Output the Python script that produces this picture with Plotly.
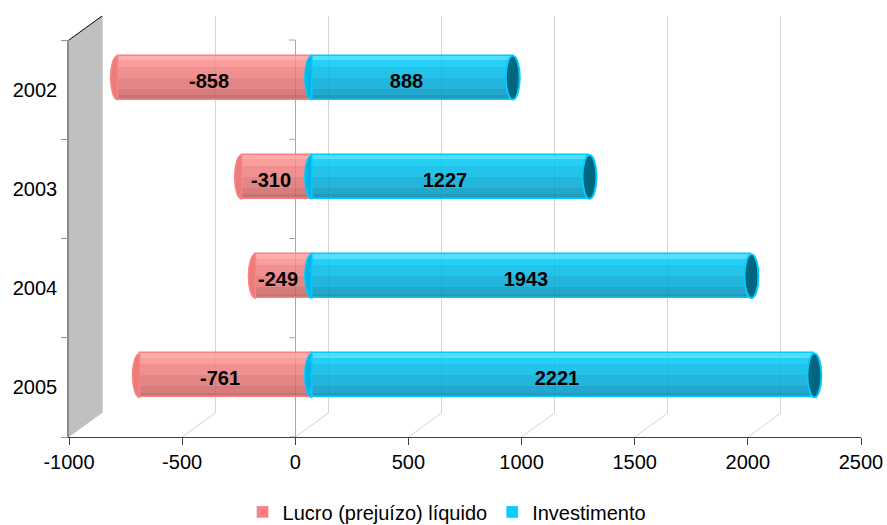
import plotly.graph_objects as go

# ---- data -------------------------------------------------------------
years = ["2002", "2003", "2004", "2005"]
lucro = [-858, -310, -249, -761]          # Lucro (prejuízo) líquido
investimento = [888, 1227, 1943, 2221]    # Investimento
x_tick_values = [-1000, -500, 0, 500, 1000, 1500, 2000, 2500]
x_tick_labels = ["-1000", "-500", "0", "500", "1000", "1500", "2000", "2500"]

# ---- geometry of the pseudo-3D frame ----------------------------------
W, H = 887, 525
ML, MR, MT, MB = 69, 26, 16, 88
PW, PH = W - ML - MR, H - MT - MB
X0, X1 = -1000, 2500
PX_PER_UNIT = PW / (X1 - X0)
DEPTH_X, DEPTH_Y = 33, 24       # how far the back wall recedes (px)
FONT = "Liberation Sans, Arial, sans-serif"

pos = list(range(len(years)))
Y_RANGE = [len(years) - 0.5, -0.5]
BAR_H = 0.443
CAP_A = 7 / PX_PER_UNIT          # horizontal half-axis of the cylinder ends
CAP_B = BAR_H / 2


def x_range(depth):
    d = depth * DEPTH_X / PX_PER_UNIT
    return [X0 - d, X1 - d]


def y_domain(depth):
    lo = depth * DEPTH_Y / PH
    return [lo, lo + (PH - DEPTH_Y) / PH]


fig = go.Figure()

# empty traces so the frame subplots (back wall, front plane) get drawn
for xa, ya in (("x", "y"), ("x2", "y2"), ("x2", "y5")):
    fig.add_trace(go.Scatter(x=[None], y=[None], mode="markers",
                             xaxis=xa, yaxis=ya, showlegend=False,
                             hoverinfo="skip"))

# ---- cylinders: horizontal slices give the rounded shading ------------
red_slices = [(0.10, "#ff9e9e"), (0.15, "#f98d8d"), (0.25, "#ee7e7e"),
              (0.25, "#e07272"), (0.15, "#cf6767"), (0.10, "#bb5c5c")]
blue_slices = [(0.10, "#3ad8ff"), (0.15, "#00c8f4"), (0.25, "#00b9e6"),
               (0.25, "#00a9d6"), (0.15, "#0099c4"), (0.10, "#0089b0")]


def add_cylinder(values, slices, edge):
    off = -BAR_H / 2
    for frac, col in slices:
        w = frac * BAR_H
        fig.add_trace(go.Bar(
            x=values, y=pos, orientation="h", width=w, offset=off,
            marker=dict(color=col, opacity=0.86, line=dict(width=0)),
            xaxis="x3", yaxis="y3", showlegend=False, hoverinfo="skip"))
        off += w
    fig.add_trace(go.Bar(
        x=values, y=pos, orientation="h", width=BAR_H,
        marker=dict(color="rgba(0,0,0,0)", line=dict(color=edge, width=1.5)),
        xaxis="x3", yaxis="y3", showlegend=False, hoverinfo="skip"))


add_cylinder(lucro, red_slices, "#ff8080")
add_cylinder(investimento, blue_slices, "#00ccff")

# value labels
for values in (lucro, investimento):
    fig.add_trace(go.Bar(
        x=values, y=pos, orientation="h", width=BAR_H,
        text=[str(v) for v in values], texttemplate="<b>%{text}</b>",
        textposition="inside", insidetextanchor="middle", textangle=0,
        constraintext="none",
        textfont=dict(family=FONT, size=20, color="#000000"),
        marker=dict(color="rgba(0,0,0,0)", line=dict(width=0)),
        xaxis="x4", yaxis="y4", showlegend=False, hoverinfo="skip"))

# legend entries
fig.add_trace(go.Bar(x=[None], y=[None], name="Lucro (prejuízo) líquido",
                     marker_color="#ff8080", xaxis="x3", yaxis="y3"))
fig.add_trace(go.Bar(x=[None], y=[None], name="Investimento",
                     marker_color="#00ccff", xaxis="x3", yaxis="y3"))

# ---- cylinder ends ----------------------------------------------------
K = 0.5523


def half_ellipse(xc, yc, a, b):
    """Left half of an ellipse, closed along its vertical chord."""
    return (f"M {xc},{yc - b} C {xc - K * a},{yc - b} {xc - a},{yc - K * b} {xc - a},{yc} "
            f"C {xc - a},{yc + K * b} {xc - K * a},{yc + b} {xc},{yc + b} Z")


shapes = []
for i, (l, v) in enumerate(zip(lucro, investimento)):
    shapes.append(dict(type="path", xref="x3", yref="y3", layer="above",
                       path=half_ellipse(l, i, CAP_A, CAP_B),
                       fillcolor="#ec7c7c", line=dict(color="#ff8080", width=1.5)))
    shapes.append(dict(type="path", xref="x3", yref="y3", layer="above",
                       path=half_ellipse(0, i, CAP_A, CAP_B),
                       fillcolor="#00b4e4", line=dict(color="#00ccff", width=1.5)))
    shapes.append(dict(type="circle", xref="x3", yref="y3", layer="above",
                       x0=v - CAP_A, x1=v + CAP_A, y0=i - CAP_B, y1=i + CAP_B,
                       fillcolor="#00667f", line=dict(color="#00ccff", width=2)))

# ---- left wall, floor and the category ticks at zero ------------------
dxp, dyp = DEPTH_X / PW, DEPTH_Y / PH
top_front = (PH - DEPTH_Y) / PH
shapes.append(dict(type="path", xref="paper", yref="paper", layer="below",
                   path=f"M 0,0 L 0,{top_front} L {dxp},1 L {dxp},{dyp} Z",
                   fillcolor="#c0c0c0", line=dict(width=0)))
shapes.append(dict(type="line", xref="paper", yref="paper", layer="below",
                   x0=0, y0=top_front, x1=dxp, y1=1,
                   line=dict(color="#000000", width=1)))
for v in x_tick_values[1:-1]:
    fx = (v - X0) / (X1 - X0)
    shapes.append(dict(type="line", xref="paper", yref="paper", layer="below",
                       x0=fx, y0=0, x1=fx + dxp, y1=dyp,
                       line=dict(color="#d4d4d4", width=1)))
zero_fx = (0 - X0) / (X1 - X0)
for b in range(len(years) + 1):
    fy = (len(years) - b) / len(years) * top_front
    shapes.append(dict(type="line", xref="paper", yref="paper", layer="below",
                       x0=zero_fx - 6 / PW, y0=fy, x1=zero_fx, y1=fy,
                       line=dict(color="#a8a8a8", width=1)))

hidden = dict(showgrid=False, zeroline=False, showticklabels=False,
              ticks="", showline=False, automargin=False)

fig.update_layout(
    width=W, height=H,
    margin=dict(l=ML, r=MR, t=MT, b=MB, autoexpand=False),
    paper_bgcolor="#ffffff", plot_bgcolor="rgba(0,0,0,0)",
    barmode="overlay", bargap=0,
    font=dict(family=FONT, size=20, color="#000000"),
    shapes=shapes,
    # back wall: gridlines
    xaxis=dict(domain=[0, 1], range=x_range(1), anchor="y", automargin=False,
               tickmode="array", tickvals=x_tick_values,
               showgrid=True, gridcolor="#d4d4d4", gridwidth=1,
               zeroline=False, showticklabels=False, ticks="", showline=False),
    yaxis=dict(domain=y_domain(1), range=Y_RANGE, anchor="x", **hidden),
    # front plane: value axis and category labels
    xaxis2=dict(domain=[0, 1], range=[X0, X1], anchor="y2", automargin=False,
                tickmode="array", tickvals=x_tick_values, ticktext=x_tick_labels,
                ticks="outside", ticklen=7, tickcolor="#404040",
                showline=True, linecolor="#404040", linewidth=1,
                showgrid=False, zeroline=True, zerolinecolor="#a8a8a8",
                zerolinewidth=1,
                tickfont=dict(family=FONT, size=20, color="#000000")),
    yaxis2=dict(domain=y_domain(0), range=Y_RANGE, anchor="x2", automargin=False,
                tickmode="array", tickvals=pos, ticktext=years,
                ticks="outside", ticklen=6, tickcolor="rgba(0,0,0,0)",
                showline=True, linecolor="#8c8c8c", linewidth=1.5,
                showgrid=False, zeroline=False,
                tickfont=dict(family=FONT, size=20, color="#000000")),
    yaxis5=dict(overlaying="y2", anchor="x2", side="left", range=Y_RANGE,
                automargin=False,
                tickmode="linear", tick0=-0.5, dtick=1,
                ticks="outside", ticklen=7, tickcolor="#909090",
                showticklabels=False, showline=False, showgrid=False, zeroline=False),
    # mid depth: cylinders
    xaxis3=dict(domain=[0, 1], range=x_range(0.5), anchor="y3", visible=False),
    yaxis3=dict(domain=y_domain(0.5), range=Y_RANGE, anchor="x3", visible=False),
    # value labels
    xaxis4=dict(domain=[0, 1], range=x_range(0.32), anchor="y4", visible=False),
    yaxis4=dict(domain=y_domain(0.38), range=Y_RANGE, anchor="x4", visible=False),
    legend=dict(orientation="h", xref="container", yref="container",
                x=0.5035, xanchor="center", y=0.025, yanchor="middle",
                font=dict(family=FONT, size=20, color="#000000"),
                bgcolor="rgba(0,0,0,0)"),
)

fig.write_html("out.html")
